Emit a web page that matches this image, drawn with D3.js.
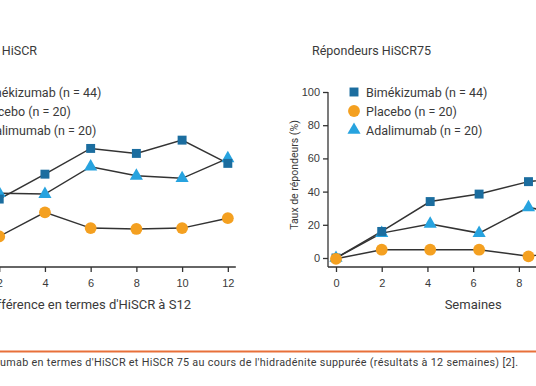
<!DOCTYPE html>
<html>
<head>
<meta charset="utf-8">
<script src="https://cdn.jsdelivr.net/npm/d3@7.9.0/dist/d3.min.js"></script>
<style>
  html, body { margin: 0; padding: 0; background: #fff; overflow: hidden; }
  svg { display: block; font-family: Roboto, "DejaVu Sans", sans-serif; }
</style>
</head>
<body>
<div id="chart"></div>
<script>
// data
const weekTicks = [0, 2, 4, 6, 8, 10, 12];
const yTicks = [0, 20, 40, 60, 80, 100];

// left panel: HiSCR responders (%)
const leftWeeks = [2, 4, 6, 8, 10, 12];
const leftBimek = [35.5, 50.5, 66, 63, 71, 57];
const leftAdali = [39, 38.5, 55, 49.5, 48, 60];
const leftPlacebo = [13, 27.5, 18, 17.5, 18, 24];

// right panel: HiSCR75 responders (%)
const rightWeeks = [0, 2, 4.12, 6.26, 8.42, 10.4, 12.4];
const rightBimek = [0, 16, 34, 38.5, 46, 49, 50];
const rightAdali = [0, 15, 20.5, 15, 30.5, 25, 30];
const rightPlacebo = [-0.5, 5, 5, 5, 1, 5, 5];

const legendLabels = ["Bimékizumab (n = 44)", "Placebo (n = 20)", "Adalimumab (n = 20)"];

const captionHidden = "Efficacité du bimékizumab et de l'adalim";
const captionShown = "umab en termes d'HiSCR et HiSCR 75 au cours de l'hidradénite suppurée (résultats à 12 semaines) [2].";

const CFG = {
  W: 536, H: 386,
  Y0: 258, Y100: 92, AXIS_Y: 267,
  PX_PER_WEEK: 22.86,
  TEXT: "#3a3a3a",
  LINE: "#333",
  BIMEK: "#1b6d9f",
  ADALI: "#27a3df",
  PLACEBO: "#f4a020",
  RULE: "#e8703a"
};

const svg = d3.select("#chart").append("svg")
  .attr("width", CFG.W)
  .attr("height", CFG.H);

const y = d3.scaleLinear().domain([0, 100]).range([CFG.Y0, CFG.Y100]);

const sym = {
  square: d3.symbol().type(d3.symbolSquare).size(80),
  circle: d3.symbol().type(d3.symbolCircle).size(110),
  triangle: d3.symbol().type(d3.symbolTriangle).size(75)
};

function drawPanel(opts) {
  const x = d3.scaleLinear().domain([0, 12])
    .range([opts.x0, opts.x0 + 12 * CFG.PX_PER_WEEK]);
  const g = svg.append("g");

  // y axis
  const yAx = g.append("g")
    .attr("transform", `translate(${opts.axisX},0)`)
    .call(d3.axisLeft(y).tickValues(yTicks).tickSize(5).tickPadding(3));
  yAx.select(".domain").attr("d", `M0,${CFG.Y100}V${CFG.AXIS_Y}`);

  // x axis
  const xAx = g.append("g")
    .attr("transform", `translate(0,${CFG.AXIS_Y})`)
    .call(d3.axisBottom(x).tickValues(weekTicks).tickSize(5).tickPadding(7));
  xAx.select(".domain").attr("d", `M${opts.axisX},0H${x(12) + 8}`);

  [yAx, xAx].forEach(a => {
    a.selectAll("path, line").attr("stroke", CFG.LINE).attr("stroke-width", 1.3);
    a.selectAll("text").attr("fill", CFG.TEXT).attr("font-size", 11);
  });

  const line = d3.line().x(d => x(d[0])).y(d => y(d[1]));
  // drawing order: adalimumab, bimekizumab, placebo on top
  const series = [
    { vals: opts.adali, color: CFG.ADALI, s: sym.triangle },
    { vals: opts.bimek, color: CFG.BIMEK, s: sym.square },
    { vals: opts.placebo, color: CFG.PLACEBO, s: sym.circle }
  ];
  series.forEach(sr => {
    const pts = opts.weeks.map((w, i) => [w, sr.vals[i]]);
    g.append("path").datum(pts)
      .attr("d", line)
      .attr("fill", "none")
      .attr("stroke", CFG.LINE)
      .attr("stroke-width", 1.5);
  });
  series.forEach(sr => {
    const pts = opts.weeks.map((w, i) => [w, sr.vals[i]]);
    g.selectAll(null).data(pts).join("path")
      .attr("d", sr.s)
      .attr("transform", d => `translate(${x(d[0])},${y(d[1])})`)
      .attr("fill", sr.color);
  });

  // title
  g.append("text")
    .attr("x", opts.titleX).attr("y", 55)
    .attr("text-anchor", opts.titleAnchor)
    .attr("font-size", 12.5)
    .attr("fill", CFG.TEXT)
    .text(opts.title);

  // legend
  const legendSyms = [sym.square, sym.circle, sym.triangle];
  const legendCols = [CFG.BIMEK, CFG.PLACEBO, CFG.ADALI];
  const legendY = [92, 111, 130];
  legendLabels.forEach((lab, i) => {
    g.append("path")
      .attr("d", legendSyms[i])
      .attr("transform", `translate(${opts.legendX - 12},${legendY[i]})`)
      .attr("fill", legendCols[i]);
    g.append("text")
      .attr("x", opts.legendX).attr("y", legendY[i] + 4.5)
      .attr("font-size", 12.5)
      .attr("fill", CFG.TEXT)
      .text(lab);
  });

  // x axis label
  g.append("text")
    .attr("x", opts.xLabelX).attr("y", 309)
    .attr("text-anchor", opts.xLabelAnchor)
    .attr("font-size", 13)
    .attr("fill", CFG.TEXT)
    .text(opts.xLabel);

  // y axis label
  g.append("text")
    .attr("transform", `translate(${opts.axisX - 30},${(CFG.Y0 + CFG.Y100) / 2}) rotate(-90)`)
    .attr("text-anchor", "middle")
    .attr("font-size", 10.5)
    .attr("fill", CFG.TEXT)
    .text("Taux de répondeurs (%)");
}

// left panel (mostly cut off on the left)
drawPanel({
  x0: -46.5, axisX: -54.5,
  weeks: leftWeeks, bimek: leftBimek, adali: leftAdali, placebo: leftPlacebo,
  title: "Répondeurs HiSCR", titleX: 37, titleAnchor: "end",
  legendX: -20,
  xLabel: "Différence en termes d'HiSCR à S12", xLabelX: 191, xLabelAnchor: "end"
});

// right panel (cut off on the right)
drawPanel({
  x0: 336, axisX: 328,
  weeks: rightWeeks, bimek: rightBimek, adali: rightAdali, placebo: rightPlacebo,
  title: "Répondeurs HiSCR75", titleX: 312, titleAnchor: "start",
  legendX: 366,
  xLabel: "Semaines", xLabelX: 336 + 6 * CFG.PX_PER_WEEK, xLabelAnchor: "middle"
});

// bottom rule and caption
svg.append("line")
  .attr("x1", 0).attr("x2", CFG.W)
  .attr("y1", 351.5).attr("y2", 351.5)
  .attr("stroke", CFG.RULE)
  .attr("stroke-width", 2);

const capFont = 10.8;
svg.append("text")
  .attr("x", 0).attr("y", 366)
  .attr("text-anchor", "end")
  .attr("font-size", capFont)
  .attr("fill", CFG.TEXT)
  .text(captionHidden);
svg.append("text")
  .attr("x", 0).attr("y", 366)
  .attr("font-size", capFont)
  .attr("fill", CFG.TEXT)
  .attr("textLength", 518)
  .attr("lengthAdjust", "spacing")
  .text(captionShown);
</script>
</body>
</html>
